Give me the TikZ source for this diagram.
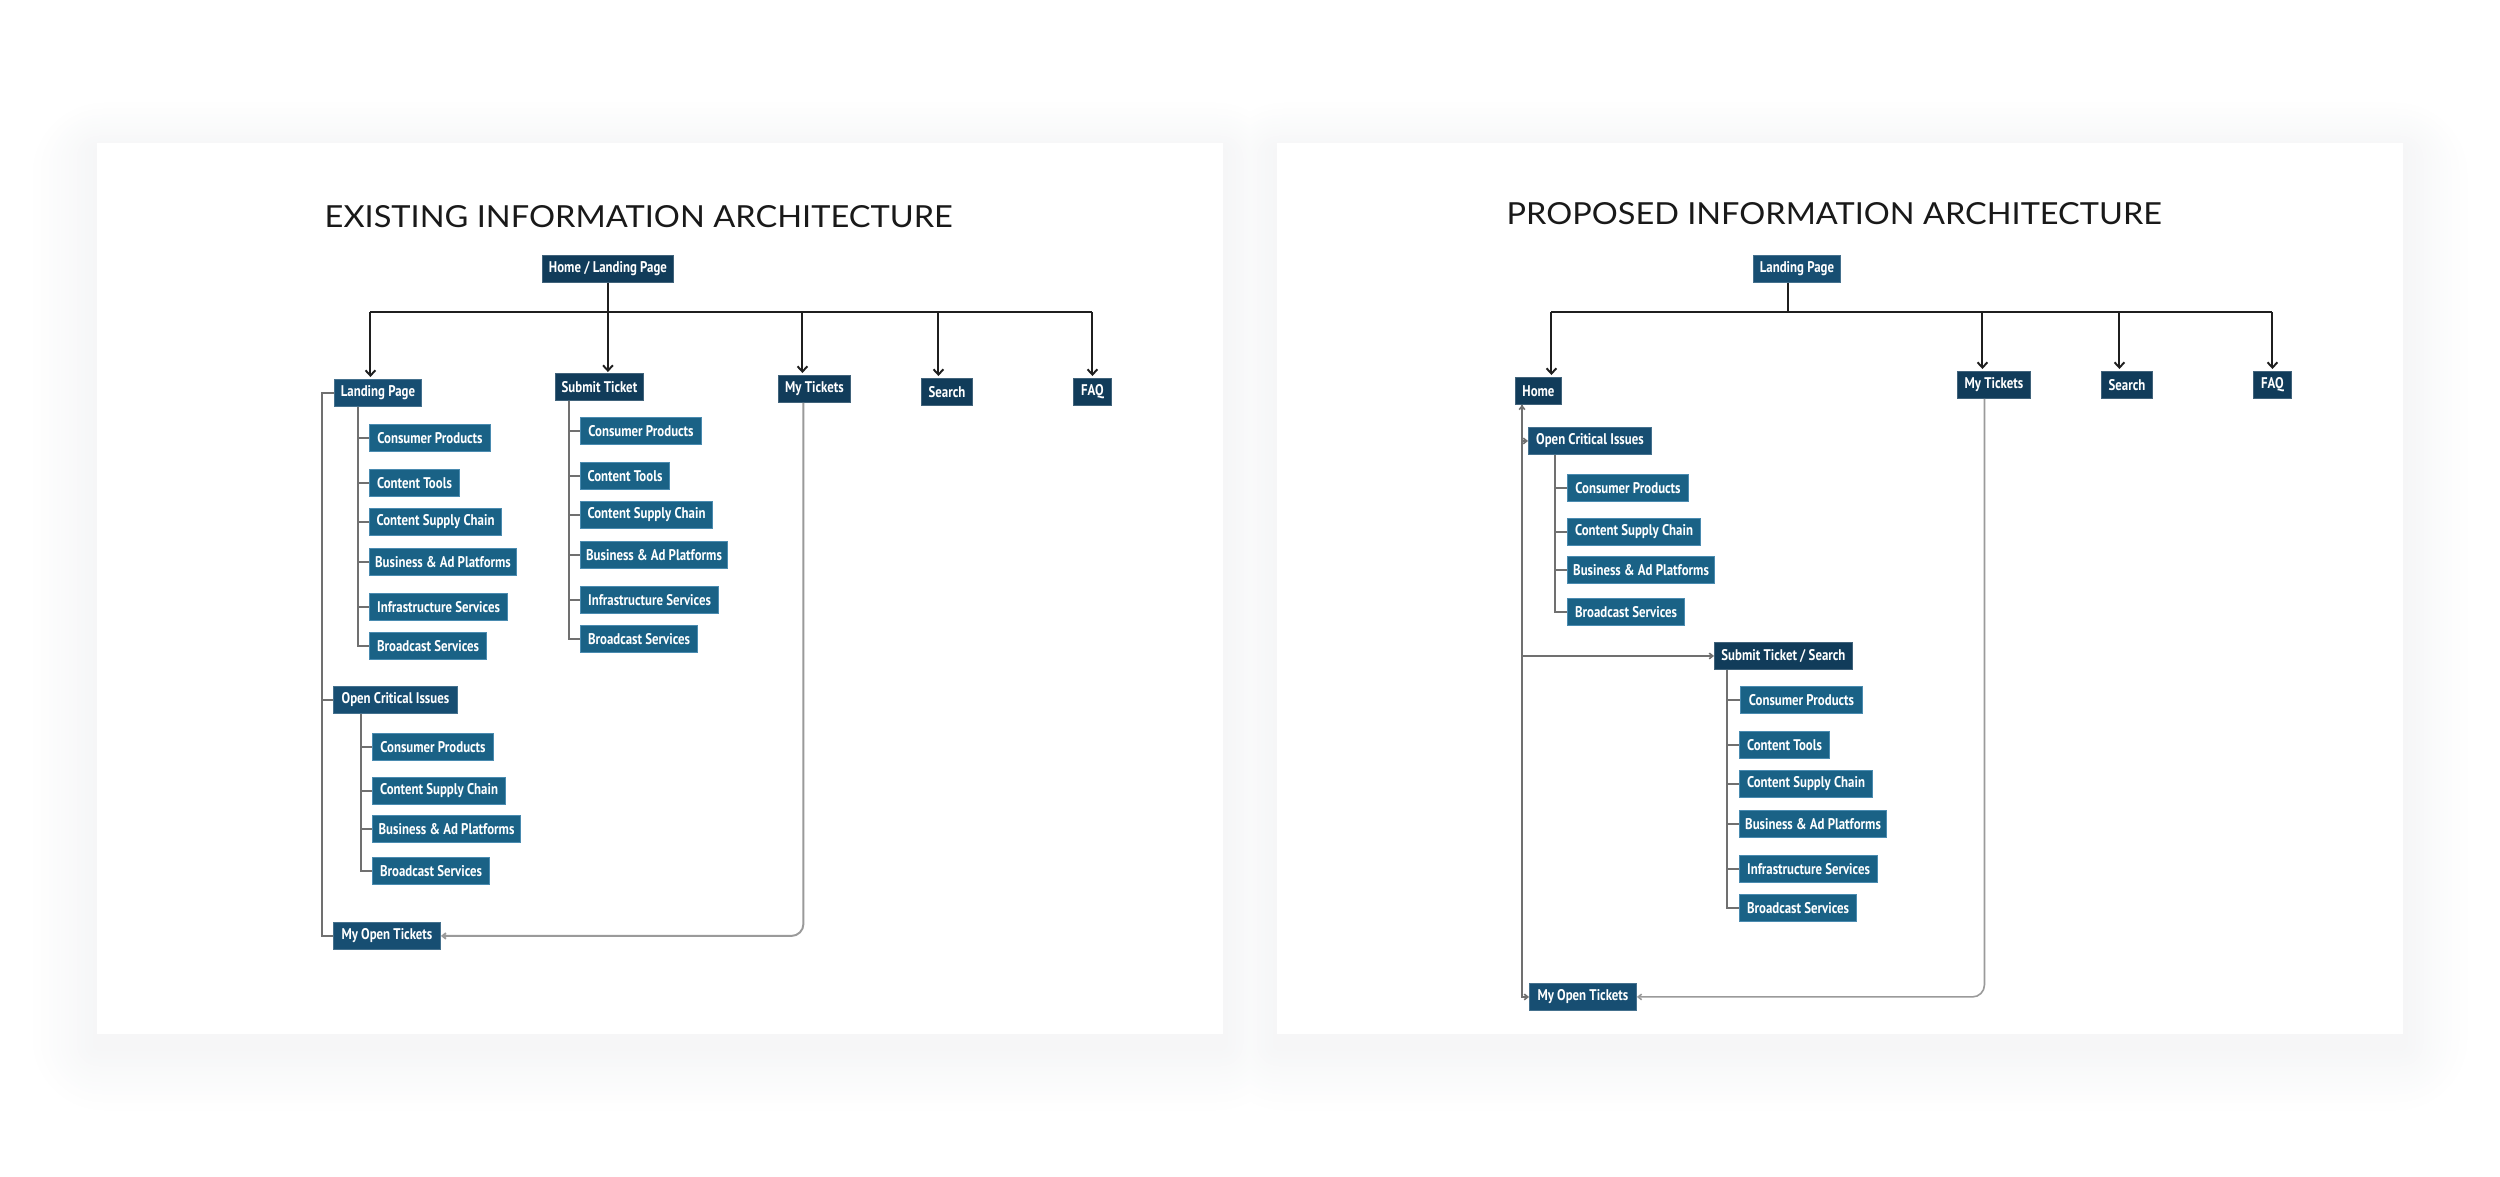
\documentclass[tikz,border=0pt]{standalone}
\usepackage{graphicx}
\usepackage{fontspec}
\usetikzlibrary{arrows.meta,calc}
\newfontfamily\labelfont[FakeStretch=0.83]{PT Sans}
\newfontfamily\titlefont{Lato}
\definecolor{cdark}{HTML}{113C5A}
\definecolor{cmid}{HTML}{174E72}
\definecolor{cleaf}{HTML}{1A6286}
\definecolor{cedge}{HTML}{4A8BB0}
\definecolor{treegray}{HTML}{707070}
\definecolor{backgray}{HTML}{9A9A9A}
\definecolor{shadowc}{HTML}{3C4A60}
\tikzset{
  box/.style={rectangle, anchor=north west, minimum height=2.7mm, inner sep=0pt,
    text=white, font=\labelfont\bfseries\fontsize{4.4}{4.4}\selectfont},
  dark/.style={box, fill=cdark, draw=cdark!80!white, line width=0.25pt},
  mid/.style={box, fill=cmid, draw=cmid!80!white, line width=0.25pt},
  leaf/.style={box, fill=cleaf, draw=cedge, line width=0.3pt},
  bus/.style={draw=black!88, line width=0.55pt},
  busarrow/.style={bus, -{Straight Barb[length=1.5pt,width=2.8pt]}},
  tree/.style={draw=treegray, line width=0.5pt},
  treearrow/.style={tree, -{Straight Barb[length=1pt,width=1.6pt]}},
  back/.style={draw=backgray, line width=0.55pt, rounded corners=1.2mm,
    -{Straight Barb[length=1pt,width=1.6pt]}},
}
\begin{document}
\begin{tikzpicture}[x=0.1mm,y=-0.1mm]
\useasboundingbox (0,0) rectangle (2500,1177);
\fill[white] (0,0) rectangle (2500,1177);
% soft shadows (solid layers, outer first)
\foreach \i in {16,15,...,1}{
  \pgfmathsetmacro{\p}{(17-\i)*0.30}
  \fill[shadowc!\p!white, rounded corners={\i*0.45mm}]
    (97-\i*4, 143-\i*3+8) rectangle (1223+\i*4, 1034+\i*4+12);
  \fill[shadowc!\p!white, rounded corners={\i*0.45mm}]
    (1277-\i*4, 143-\i*3+8) rectangle (2403+\i*4, 1034+\i*4+12);
}
\fill[white] (97,143) rectangle (1223,1034);
\fill[white] (1277,143) rectangle (2403,1034);

% titles
\node[anchor=base west, inner sep=0pt, text=black!90] (t1) at (324,228)
  {\resizebox{62.8mm}{2.2mm}{\titlefont EXISTING INFORMATION ARCHITECTURE}};
\node[anchor=base west, inner sep=0pt, text=black!90] (t2) at (1506,224)
  {\resizebox{65.5mm}{2.2mm}{\titlefont PROPOSED INFORMATION ARCHITECTURE}};

% ===== existing =====
\node[dark, minimum width=13.1mm] (hl) at (542,255) {Home / Landing Page};
\node[mid, minimum width=8.7mm] (lp) at (334,379) {Landing Page};
\node[dark, minimum width=8.8mm] (st) at (555,373) {Submit Ticket};
\node[dark, minimum width=7.2mm] (mt) at (778,375) {My Tickets};
\node[dark, minimum width=5.1mm] (se) at (921,378) {Search};
\node[dark, minimum width=3.8mm] (fq) at (1073,378) {FAQ};

\node[leaf, minimum width=12.1mm] (la1) at (369,424) {Consumer Products};
\node[leaf, minimum width=9.0mm] (la2) at (369,469) {Content Tools};
\node[leaf, minimum width=13.2mm] (la3) at (369,508) {Content Supply Chain};
\node[leaf, minimum width=14.7mm] (la4) at (369,548) {Business \& Ad Platforms};
\node[leaf, minimum width=13.8mm] (la5) at (369,593) {Infrastructure Services};
\node[leaf, minimum width=11.7mm] (la6) at (369,632) {Broadcast Services};

\node[leaf, minimum width=12.1mm] (sa1) at (580,417) {Consumer Products};
\node[leaf, minimum width=8.9mm] (sa2) at (580,462) {Content Tools};
\node[leaf, minimum width=13.2mm] (sa3) at (580,501) {Content Supply Chain};
\node[leaf, minimum width=14.7mm] (sa4) at (580,541) {Business \& Ad Platforms};
\node[leaf, minimum width=13.8mm] (sa5) at (580,586) {Infrastructure Services};
\node[leaf, minimum width=11.7mm] (sa6) at (580,625) {Broadcast Services};

\node[mid, minimum width=12.4mm] (oc) at (333,686) {Open Critical Issues};
\node[leaf, minimum width=12.1mm] (oa1) at (372,733) {Consumer Products};
\node[leaf, minimum width=13.3mm] (oa2) at (372,777) {Content Supply Chain};
\node[leaf, minimum width=14.8mm] (oa3) at (372,815) {Business \& Ad Platforms};
\node[leaf, minimum width=11.7mm] (oa4) at (372,857) {Broadcast Services};
\node[mid, minimum width=10.7mm] (mo) at (333,922) {My Open Tickets};

\coordinate (busL) at (0,312);
\coordinate (lpTop) at ($(lp.north)+(-7.5,-2)$);
\coordinate (mtTop) at ($(mt.north)+(-12,-2)$);
\coordinate (seTop) at ($(se.north)+(-8.5,-2)$);
\coordinate (fqTop) at ($(fq.north)+(0,-2)$);
\draw[bus] (lpTop |- busL) -- (fqTop |- busL);
\draw[busarrow] (hl.south) -- ($(hl.south |- st.north)+(0,-1)$);
\draw[busarrow] (lpTop |- busL) -- (lpTop);
\draw[busarrow] (mtTop |- busL) -- (mtTop);
\draw[busarrow] (seTop |- busL) -- (seTop);
\draw[busarrow] (fqTop |- busL) -- (fqTop);

\draw[tree] (lp.west) -- ++(-12,0) |- (mo.west);
\draw[tree] (oc.west) -- ++(-11,0);
\foreach \c in {la1,la2,la3,la4,la5,la6}
  \draw[tree] ($(lp.south west)+(24,0)$) |- (\c.west);
\foreach \c in {sa1,sa2,sa3,sa4,sa5,sa6}
  \draw[tree] ($(st.south west)+(14,0)$) |- (\c.west);
\foreach \c in {oa1,oa2,oa3,oa4}
  \draw[tree] ($(oc.south west)+(28,0)$) |- (\c.west);
\draw[back] ($(mt.south)+(-11,0)$) |- (mo.east);

% ===== proposed =====
\node[mid, minimum width=8.7mm] (rl) at (1753,255) {Landing Page};
\node[dark, minimum width=4.6mm] (rh) at (1515,377) {Home};
\node[dark, minimum width=7.3mm] (rm) at (1957,371) {My Tickets};
\node[dark, minimum width=5.1mm] (rs) at (2101,371) {Search};
\node[dark, minimum width=3.8mm] (rf) at (2253,371) {FAQ};

\node[mid, minimum width=12.3mm] (ro) at (1528,427) {Open Critical Issues};
\node[leaf, minimum width=12.1mm] (ro1) at (1567,474) {Consumer Products};
\node[leaf, minimum width=13.3mm] (ro2) at (1567,518) {Content Supply Chain};
\node[leaf, minimum width=14.7mm] (ro3) at (1567,556) {Business \& Ad Platforms};
\node[leaf, minimum width=11.7mm] (ro4) at (1567,598) {Broadcast Services};

\node[dark, minimum width=13.8mm] (rt) at (1714,642) {Submit Ticket / Search};
\node[leaf, minimum width=12.2mm] (rt1) at (1740,686) {Consumer Products};
\node[leaf, minimum width=9.0mm] (rt2) at (1739,731) {Content Tools};
\node[leaf, minimum width=13.3mm] (rt3) at (1739,770) {Content Supply Chain};
\node[leaf, minimum width=14.7mm] (rt4) at (1739,810) {Business \& Ad Platforms};
\node[leaf, minimum width=13.8mm] (rt5) at (1739,855) {Infrastructure Services};
\node[leaf, minimum width=11.7mm] (rt6) at (1739,894) {Broadcast Services};
\node[mid, minimum width=10.7mm] (rmo) at (1529,983) {My Open Tickets};

\coordinate (busR) at (0,312);
\coordinate (rstem) at ($(rl.south)+(-9,0)$);
\coordinate (rhTop) at ($(rh.north)+(13,-2)$);
\coordinate (rmTop) at ($(rm.north)+(-11.5,-2)$);
\coordinate (rsTop) at ($(rs.north)+(-7.5,-2)$);
\coordinate (rfTop) at ($(rf.north)+(0,-2)$);
\draw[bus] (rstem) -- (rstem |- busR);
\draw[bus] (rhTop |- busR) -- (rfTop |- busR);
\draw[busarrow] (rhTop |- busR) -- (rhTop);
\draw[busarrow] (rmTop |- busR) -- (rmTop);
\draw[busarrow] (rsTop |- busR) -- (rsTop);
\draw[busarrow] (rfTop |- busR) -- (rfTop);

\coordinate (rtr) at ($(rh.south west)+(7,0)$);
\draw[tree, line width=0.45pt, {Straight Barb[length=1pt,width=1.6pt]}-{Straight Barb[length=1pt,width=1.6pt]}] (rtr) |- (rmo.west);
\draw[treearrow, line width=0.45pt] (rtr) |- (ro.west);
\draw[treearrow, line width=0.45pt] (rtr) |- (rt.west);
\foreach \c in {ro1,ro2,ro3,ro4}
  \draw[tree, line width=0.45pt] ($(ro.south west)+(27,0)$) |- (\c.west);
\foreach \c in {rt1,rt2,rt3,rt4,rt5,rt6}
  \draw[tree, line width=0.45pt] ($(rt.south west)+(13,0)$) |- (\c.west);
\draw[back, line width=0.45pt] ($(rm.south)+(-9.5,0)$) |- (rmo.east);
\end{tikzpicture}
\end{document}
